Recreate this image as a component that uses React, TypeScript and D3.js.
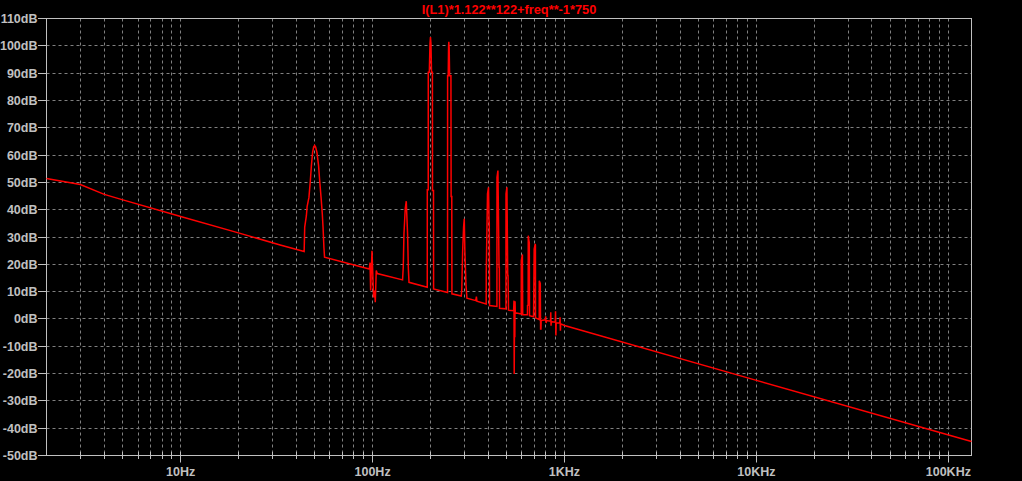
import React from "react";
import * as d3 from "d3";

const W = 1022;
const H = 481;

const chartTitle = "I(L1)*1.122**122+freq**-1*750";

const yTicks = [-50, -40, -30, -20, -10, 0, 10, 20, 30, 40, 50, 60, 70, 80, 90, 100, 110];
const yTickLabels = yTicks.map((v) => `${v}dB`);
const xDecades = [10, 100, 1000, 10000, 100000];
const xDecadeLabels = ["10Hz", "100Hz", "1KHz", "10KHz", "100KHz"];
const xDomain = [2, 132000];
const yDomain = [-50, 110];

// [frequency Hz, level dB]
const lowBaseline = [[2, 51.4], [3, 49.2], [4, 45.6], [5, 43.6], [10, 37.5], [20, 31.5], [33, 27.1], [44.0, 24.7]];
const peak50 = [[44.3, 33.6], [45.2, 37.8], [45.6, 41.1], [46.6, 44.5], [47.4, 50.7], [48.0, 56.2], [48.7, 61.0], [49.3, 62.9], [49.9, 63.5], [50.5, 62.9], [51.3, 61.0], [52.3, 56.2], [53.0, 50.7], [53.9, 44.5], [54.7, 38.5], [55.2, 33.6], [55.8, 26.0], [56.2, 22.6]];
const hum100 = [[96.2, 18.3], [97.0, 20.6], [97.7, 10.4], [99.3, 25.0], [101.2, 7.9], [102.5, 10.4], [103.3, 6.1], [104.5, 17.7], [105.8, 16.6]];
const peak150 = [[143.3, 14.3], [144.5, 18.9], [145.7, 31.1], [148.0, 40.4], [149.8, 43.1], [152.2, 31.1], [153.5, 18.9], [154.8, 13.4]];
const peak200 = [[192.7, 11.6], [192.8, 47.3], [195.0, 47.3], [195.1, 90.3], [197.5, 90.3], [199.1, 100.7], [200.3, 103.2], [201.5, 100.7], [202.8, 90.3], [205.0, 90.3], [205.2, 47.0], [207.7, 47.0], [207.9, 11.0]];
const peak250 = [[245.8, 9.7], [246.0, 89.0], [247.8, 89.0], [248.8, 99.5], [249.6, 101.5], [250.6, 99.5], [252.0, 89.0], [256.0, 89.0], [256.6, 44.8], [258.6, 44.8], [259.1, 9.2]];
const peak300 = [[289.7, 8.4], [291.5, 10.5], [294.5, 24.4], [298.0, 33.6], [300.4, 36.7], [302.7, 24.4], [306.5, 12.7], [310.2, 7.6]];
const bump350 = [[345, 6.7], [347.5, 8.2], [349.5, 6.5]];
const peak400 = [[390.8, 5.5], [391.2, 17.1], [397.0, 45.8], [401.8, 48.2], [404.5, 35.4], [405.5, 35.4], [406.9, 4.9]];
const peak450 = [[444.5, 4.6], [444.9, 51.9], [449.9, 54.3], [456.0, 18.9], [457.5, 18.9], [458.6, 3.9]];
const peak500 = [[495.3, 3.7], [495.7, 45.8], [501.2, 48.2], [506.0, 15.9], [508.0, 15.9], [510.9, 3.2]];
const dip550 = [[543.0, 3.0], [545.5, 6.7], [547.0, -20.2], [549.5, 6.5], [551.0, -6.7], [552.5, 6.5], [554.0, 2.3]];
const peak600 = [[595.1, 1.8], [595.5, 21.4], [603.5, 23.6], [605.8, 1.5]];
const peak650 = [[641.0, 1.5], [641.8, 4.9], [646.5, 5.0], [647.3, 30.5], [652.6, 28.7], [655.5, 28.0], [657.3, 1.2]];
const peak700 = [[689.4, 0.8], [690.5, 4.0], [695.0, 25.6], [703.9, 27.5], [705.5, 27.0], [706.3, 0.4]];
const spike750 = [[738.4, -0.2], [738.8, 14.0], [748.0, 13.0], [750.5, -3.7], [754.0, -3.7], [756.0, -0.6]];
const spikes800to950 = [[795, -0.3], [798, 1.0], [802, -1.5], [805, -0.6], [845, -0.8], [848, 2.4], [851, -2.5], [854, -1.0], [895, -1.2], [898, 2.8], [902, -6.1], [905, -1.4], [945, -1.5], [948, 0.6], [952, -4.3], [955, -1.8]];
const highBaseline = [[1000, -2.4], [10000, -22.5], [132000, -44.9]];

const trace = [
  ...lowBaseline, ...peak50, ...hum100, ...peak150, ...peak200, ...peak250, ...peak300,
  ...bump350, ...peak400, ...peak450, ...peak500, ...dip550, ...peak600, ...peak650,
  ...peak700, ...spike750, ...spikes800to950, ...highBaseline,
];

const LEFT = 46.5;
const RIGHT = 971.5;
const TOP = 18.5;
const BOTTOM = 455.5;

const FONT = "'Liberation Sans', Arial, sans-serif";
const LABEL = "#c0c0c0";
const GRID = "#808080";

export default function App() {
  const x = d3.scaleLog().domain(xDomain).range([LEFT, RIGHT]);
  const y = d3.scaleLinear().domain(yDomain).range([BOTTOM, TOP]);

  const minor: number[] = [];
  for (const dec of [1, 10, 100, 1000, 10000, 100000]) {
    for (let k = 1; k <= 9; k++) {
      const f = k * dec;
      if (f > xDomain[0] && f < xDomain[1]) minor.push(f);
    }
  }

  const line = d3
    .line<number[]>()
    .x((d) => x(d[0]))
    .y((d) => y(d[1]));

  const px = (v: number) => Math.round(v - 0.5) + 0.5;

  return (
    <svg
      width={W}
      height={H}
      style={{ position: "absolute", left: 0, top: 0, display: "block", background: "#000" }}
    >
      <rect x={0} y={0} width={W} height={H} fill="#000" />
      {/* vertical grid */}
      {minor.map((f) => (
        <line
          key={"vg" + f}
          x1={px(x(f))}
          x2={px(x(f))}
          y1={TOP}
          y2={BOTTOM}
          stroke={GRID}
          strokeWidth={1}
          strokeDasharray="3,3"
        />
      ))}
      {/* horizontal grid */}
      {yTicks
        .filter((v) => v > yDomain[0] && v < yDomain[1])
        .map((v) => (
          <line
            key={"hg" + v}
            x1={LEFT}
            x2={RIGHT}
            y1={px(y(v))}
            y2={px(y(v))}
            stroke={GRID}
            strokeWidth={1}
            strokeDasharray="3,3"
          />
        ))}
      {/* frame */}
      <rect x={LEFT} y={TOP} width={RIGHT - LEFT} height={BOTTOM - TOP} fill="none" stroke={LABEL} strokeWidth={1} />
      {/* y ticks */}
      {yTicks.map((v, i) => (
        <g key={"yt" + v}>
          <line x1={38} x2={LEFT} y1={px(y(v))} y2={px(y(v))} stroke={LABEL} strokeWidth={1} />
          <text
            x={37.5}
            y={y(v) + 4.5}
            textAnchor="end"
            fill={LABEL}
            fontFamily={FONT}
            fontWeight="bold"
            fontSize={12.5}
          >
            {yTickLabels[i]}
          </text>
        </g>
      ))}
      {/* x ticks */}
      {minor.map((f) => (
        <line key={"xt" + f} x1={px(x(f))} x2={px(x(f))} y1={452} y2={459} stroke={LABEL} strokeWidth={1} />
      ))}
      {xDecades.map((f, i) => (
        <g key={"xd" + f}>
          <line x1={px(x(f))} x2={px(x(f))} y1={452} y2={462.5} stroke={LABEL} strokeWidth={1} />
          <text
            x={x(f)}
            y={475.5}
            textAnchor="middle"
            fill={LABEL}
            fontFamily={FONT}
            fontWeight="bold"
            fontSize={12.5}
          >
            {xDecadeLabels[i]}
          </text>
        </g>
      ))}
      {/* trace */}
      <path d={line(trace) || ""} fill="none" stroke="#ff0000" strokeWidth={1.5} strokeLinejoin="miter" strokeMiterlimit={2} />
      {/* title */}
      <text
        x={(LEFT + RIGHT) / 2}
        y={13.5}
        textAnchor="middle"
        fill="#ff0000"
        fontFamily={FONT}
        fontWeight="bold"
        fontSize={12.8}
      >
        {chartTitle}
      </text>
    </svg>
  );
}
